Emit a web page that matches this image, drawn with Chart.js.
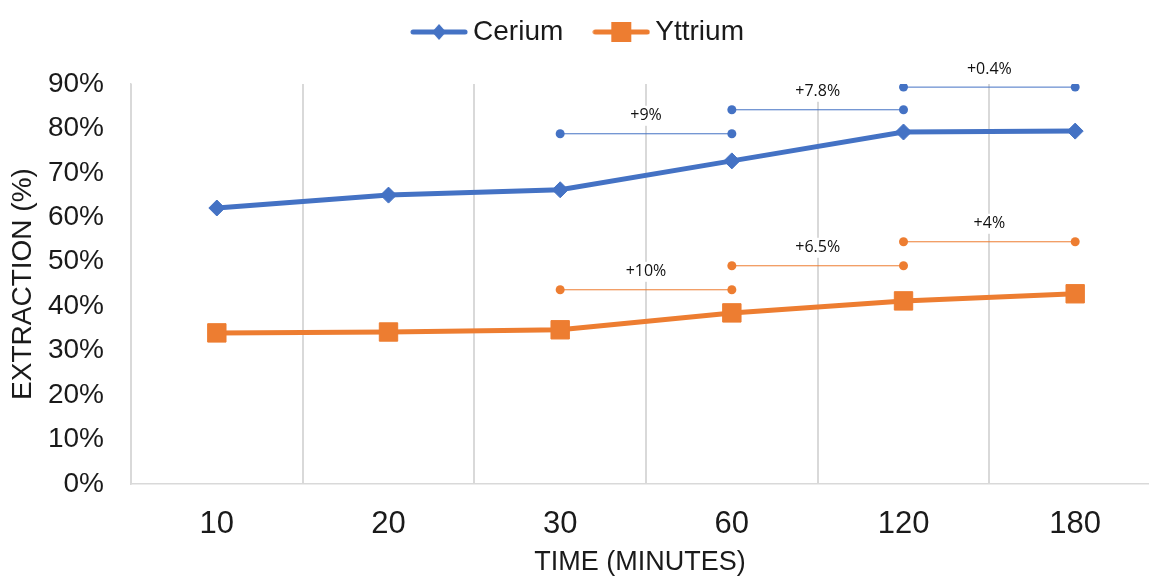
<!DOCTYPE html>
<html>
<head>
<meta charset="utf-8">
<script src="https://cdn.jsdelivr.net/npm/chart.js@4/dist/chart.umd.min.js"></script>
<style>
  html, body { margin: 0; padding: 0; background: #fff; overflow: hidden; }
</style>
</head>
<body>
<canvas id="extractionChart" width="1149" height="579"></canvas>
<script>
// Extraction over time
const times = ['10', '20', '30', '60', '120', '180'];
const cerium = [62.1, 65.0, 66.2, 72.7, 79.2, 79.4];
const yttrium = [34.0, 34.2, 34.7, 38.5, 41.2, 42.8];

// Gain brackets: start category, bracket height, label
const gainStart = [2, 3, 4];
const ceGainLevels = [78.8, 84.2, 89.3];
const ceGainLabels = ['+9%', '+7.8%', '+0.4%'];
const yGainLevels = [43.7, 49.1, 54.5];
const yGainLabels = ['+10%', '+6.5%', '+4%'];

const BLUE = '#4472C4';
const ORANGE = '#ED7D31';

// category slots on a numeric axis; the last slot is cut at the right edge
const X_MIN = -0.5;
const X_MAX = 5.43;

const FONT = '"Liberation Sans", Arial, sans-serif';

// small line+marker swatches for the legend
function swatch(color, marker) {
    const c = document.createElement('canvas');
    c.width = 58;
    c.height = 22;
    const g = c.getContext('2d');
    g.strokeStyle = color;
    g.fillStyle = color;
    g.lineWidth = 5;
    g.lineCap = 'round';
    g.beginPath();
    g.moveTo(3, 11);
    g.lineTo(55, 11);
    g.stroke();
    g.beginPath();
    if (marker === 'diamond') {
        g.moveTo(29, 3);
        g.lineTo(36, 11);
        g.lineTo(29, 19);
        g.lineTo(22, 11);
    } else {
        g.rect(19, 1, 20, 20);
    }
    g.fill();
    return c;
}

const toPoints = values => values.map((v, i) => ({ x: i, y: v }));

function bracketDataset(levels, labels, color) {
    return levels.map((lvl, i) => ({
        label: labels[i],
        gain: true,
        data: [{ x: gainStart[i], y: lvl }, { x: gainStart[i] + 1, y: lvl }],
        borderColor: color,
        backgroundColor: color,
        borderWidth: 1,
        pointRadius: 4.5,
        pointHoverRadius: 4.5,
        pointBorderWidth: 0
    }));
}

// gain labels sit above each bracket on a white patch
const gainLabels = {
    id: 'gainLabels',
    afterDatasetsDraw(chart) {
        const ctx = chart.ctx;
        ctx.save();
        ctx.font = '16px "Open Sans", "Liberation Sans", sans-serif';
        ctx.textAlign = 'center';
        ctx.textBaseline = 'middle';
        chart.data.datasets.forEach((ds, i) => {
            if (!ds.gain) return;
            const [a, b] = chart.getDatasetMeta(i).data;
            const x = (a.x + b.x) / 2;
            const y = a.y - 18;
            const w = ctx.measureText(ds.label).width + 10;
            ctx.fillStyle = '#fff';
            ctx.fillRect(x - w / 2, y - 10, w, 20);
            ctx.fillStyle = '#111';
            ctx.fillText(ds.label, x, y);
        });
        ctx.restore();
    }
};

// fixed legend band height so the plot starts at 90%
const legendBand = {
    id: 'legendBand',
    beforeInit(chart) {
        const lg = chart.legend;
        if (!lg) return;
        const fit = lg.fit;
        lg.fit = function () {
            fit.call(this);
            this.height = 104;
        };
    }
};

const ctx = document.getElementById('extractionChart').getContext('2d');
const extractionChart = new Chart(ctx, {
    type: 'line',
    data: {
        datasets: [
            {
                label: 'Cerium',
                data: toPoints(cerium),
                borderColor: BLUE,
                backgroundColor: BLUE,
                borderWidth: 5,
                pointStyle: 'rectRot',
                pointRadius: 8,
                pointHoverRadius: 8,
                pointBorderWidth: 1,
                tension: 0
            },
            {
                label: 'Yttrium',
                data: toPoints(yttrium),
                borderColor: ORANGE,
                backgroundColor: ORANGE,
                borderWidth: 5,
                pointStyle: 'rect',
                pointRadius: 13,
                pointHoverRadius: 13,
                pointBorderWidth: 1,
                tension: 0
            },
            ...bracketDataset(ceGainLevels, ceGainLabels, BLUE),
            ...bracketDataset(yGainLevels, yGainLabels, ORANGE)
        ]
    },
    options: {
        responsive: false,
        animation: false,
        events: [],
        layout: {
            autoPadding: false,
            padding: { top: -20, right: 0, left: 14, bottom: 0 }
        },
        plugins: {
            tooltip: { enabled: false },
            legend: {
                position: 'top',
                labels: {
                    usePointStyle: true,
                    pointStyleWidth: 40,
                    padding: 38,
                    color: '#1a1a1a',
                    font: { family: FONT, size: 28 },
                    generateLabels(chart) {
                        const marks = [swatch(BLUE, 'diamond'), swatch(ORANGE, 'square')];
                        return chart.data.datasets.slice(0, 2).map((ds, i) => ({
                            text: ds.label,
                            pointStyle: marks[i],
                            fillStyle: ds.borderColor,
                            strokeStyle: ds.borderColor,
                            fontColor: '#1a1a1a',
                            lineWidth: 0,
                            datasetIndex: i
                        }));
                    }
                }
            }
        },
        scales: {
            // separator lines between time slots
            xg: {
                type: 'linear',
                position: 'bottom',
                min: X_MIN,
                max: X_MAX,
                grid: { drawTicks: false, color: '#d9d9d9', lineWidth: 2 },
                border: { display: false },
                ticks: { display: false },
                afterBuildTicks(scale) {
                    scale.ticks = times.map((_, i) => ({ value: i - 0.5 }));
                },
                afterFit(scale) {
                    scale.height = 0;
                    scale.paddingLeft = 0;
                    scale.paddingRight = 0;
                }
            },
            x: {
                type: 'linear',
                position: 'bottom',
                min: X_MIN,
                max: X_MAX,
                grid: { display: false, drawTicks: false },
                border: { color: '#d9d9d9', width: 1.5 },
                ticks: {
                    padding: 22,
                    color: '#1a1a1a',
                    font: { family: FONT, size: 31 },
                    callback: v => times[v]
                },
                afterBuildTicks(scale) {
                    scale.ticks = times.map((_, i) => ({ value: i }));
                },
                title: {
                    display: true,
                    text: 'TIME (MINUTES)',
                    color: '#1a1a1a',
                    padding: { top: 0, bottom: 0 },
                    font: { family: FONT, size: 27 }
                },
                afterFit(scale) {
                    scale.height = 95;
                    scale.paddingLeft = 0;
                    scale.paddingRight = 0;
                }
            },
            y: {
                min: 0,
                max: 90,
                grid: { display: false, drawTicks: false },
                border: { color: '#d9d9d9', width: 1.5 },
                ticks: {
                    stepSize: 10,
                    padding: 27,
                    color: '#1a1a1a',
                    font: { family: FONT, size: 28 },
                    callback: v => v + '%'
                },
                title: {
                    display: true,
                    text: 'EXTRACTION (%)',
                    color: '#1a1a1a',
                    padding: { top: -8, bottom: 0 },
                    font: { family: FONT, size: 28 }
                },
                afterFit(scale) { scale.width = 117; }
            }
        }
    },
    plugins: [legendBand, gainLabels]
});
</script>
</body>
</html>
